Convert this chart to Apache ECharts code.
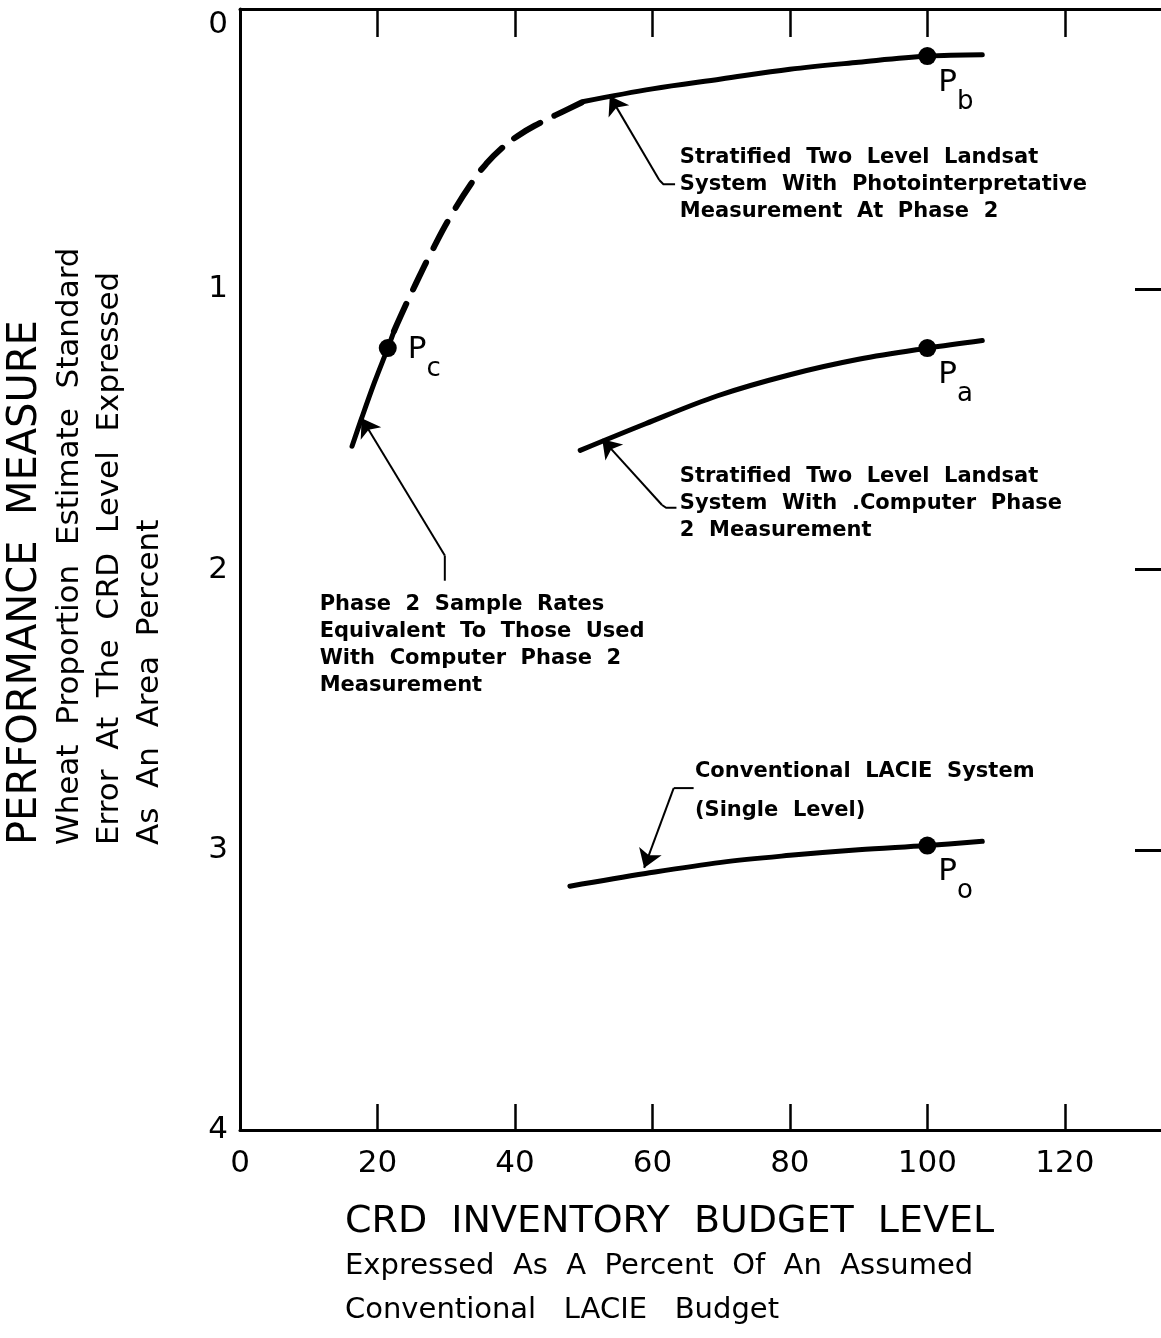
<!DOCTYPE html>
<html>
<head>
    <meta charset="utf-8">
    <title>CRD Inventory Budget Level</title>
    <script src="https://cdn.jsdelivr.net/npm/echarts@6/dist/echarts.min.js"></script>
    <style>
        body { margin: 0; background: #fff; }
        #chart1 { width: 1161px; height: 1338px; }
    </style>
</head>
<body>
<div id="chart1"></div>
<script type="text/javascript">
    // curves: [budget %, standard error %]
    var curveB = [[50, 0.33], [60, 0.285], [70, 0.25], [80, 0.215], [90, 0.19], [100, 0.168], [108, 0.163]];
    var curveBDash = [[22.4, 1.15], [23.3, 1.10], [25.2, 1.0], [28, 0.86], [31, 0.725], [34, 0.61], [35.8, 0.553], [37.8, 0.503],
        [40.4, 0.453], [43.6, 0.407], [47.5, 0.36], [50, 0.33]];
    var curveC = [[16.3, 1.56], [17.7, 1.46], [19.6, 1.33], [21.5, 1.21], [22.4, 1.15]];
    var curveA = [[49.5, 1.575], [59, 1.48], [69.5, 1.38], [80, 1.305], [90, 1.25], [100, 1.21], [108, 1.183]];
    var curveO = [[48, 3.13], [59, 3.085], [70, 3.045], [80, 3.02], [90, 3.0], [100, 2.985], [108, 2.97]];

    // design points P_b, P_a, P_c, P_o
    var pointXY = [[100, 0.168], [100, 1.21], [21.5, 1.21], [100, 2.985]];
    var pointSub = ['b', 'a', 'c', 'o'];

    // axis ticks
    var xTicks = [20, 40, 60, 80, 100, 120];
    var xLabels = [0, 20, 40, 60, 80, 100, 120];
    var yLabels = [0, 1, 2, 3, 4];
    var yTicksRight = [1, 2, 3];

    // callouts: arrow head segment, then the leader to the text
    var arrowHeads = [
        [[53.8, 0.31], [61, 0.61]],
        [[52.7, 1.535], [61.4, 1.77]],
        [[17.7, 1.46], [29.8, 1.95]],
        [[58.8, 3.065], [63.1, 2.78]]
    ];
    var leaders = [
        [[61, 0.61], [61.6, 0.625], [63.3, 0.625]],
        [[61.4, 1.77], [62, 1.78], [63.5, 1.78]],
        [[29.8, 1.95], [29.8, 2.04]],
        [[63.1, 2.78], [66, 2.78]]
    ];
    var noteAt = [[64.0, 0.4835], [64.0, 1.622], [11.6, 2.077]];
    var noteText = [
        'Stratified  Two  Level  Landsat\nSystem  With  Photointerpretative\nMeasurement  At  Phase  2',
        'Stratified  Two  Level  Landsat\nSystem  With  .Computer  Phase\n2  Measurement',
        'Phase  2  Sample  Rates\nEquivalent  To  Those  Used\nWith  Computer  Phase  2\nMeasurement'
    ];
    var noteAtO = [[66.2, 2.651]];
    var noteTextO = ['Conventional  LACIE  System\n(Single  Level)'];

    var font = 'DejaVu Sans';

    var myChart1 = echarts.init(document.getElementById('chart1'));

    function curve(name, data, width, type, smooth) {
        return {
            name: name, type: 'line', data: data, smooth: smooth || 0.35, symbol: 'none',
            xAxisIndex: 0, yAxisIndex: 0,
            lineStyle: {color: '#000', width: width, type: type || 'solid', cap: 'round'},
            z: 3
        };
    }

    function notes(at, text, lh) {
        return {
            type: 'scatter', xAxisIndex: 0, yAxisIndex: 0,
            symbolSize: 0.1, itemStyle: {color: '#fff', opacity: 1},
            data: at.map(function (p, i) { return {value: p, name: text[i]}; }),
            label: {
                show: true, position: [0, 0], align: 'left', verticalAlign: 'top', opacity: 1,
                formatter: function (p) { return p.name; },
                color: '#000', fontFamily: font, fontWeight: 'bold', fontSize: 21, lineHeight: lh
            },
            z: 4
        };
    }

    var option = {
        animation: false,
        backgroundColor: '#fff',
        grid: {left: 240, right: 0, top: 9, bottom: 208, containLabel: false, outerBoundsMode: 'none'},
        xAxis: [{
            type: 'value', position: 'bottom', min: 0, max: 134, interval: 20,
            axisLine: {show: true, onZero: false, lineStyle: {color: '#000', width: 3}},
            axisTick: {show: true, inside: true, length: 26, customValues: xTicks, lineStyle: {color: '#000', width: 2.5}},
            axisLabel: {show: true, customValues: xLabels, margin: 18, color: '#000', fontFamily: font, fontSize: 31},
            splitLine: {show: false}
        }, {
            type: 'value', position: 'top', min: 0, max: 134, interval: 20,
            axisLine: {show: true, onZero: false, lineStyle: {color: '#000', width: 3}},
            axisTick: {show: true, inside: true, length: 28, customValues: xTicks, lineStyle: {color: '#000', width: 2.5}},
            axisLabel: {show: false},
            splitLine: {show: false}
        }],
        yAxis: [{
            type: 'value', position: 'left', inverse: true, min: 0, max: 4, interval: 1,
            axisLine: {show: true, onZero: false, lineStyle: {color: '#000', width: 3}},
            axisTick: {show: false},
            axisLabel: {show: true, customValues: yLabels, margin: 12, color: '#000', fontFamily: font, fontSize: 31,
                verticalAlignMinLabel: 'top'},
            splitLine: {show: false}
        }, {
            type: 'value', position: 'right', inverse: true, min: 0, max: 4, interval: 1,
            axisLine: {show: false, onZero: false},
            axisTick: {show: true, inside: true, length: 26, customValues: yTicksRight, lineStyle: {color: '#000', width: 3}},
            axisLabel: {show: false},
            splitLine: {show: false}
        }],
        series: [
            curve('Pb', curveB, 5),
            curve('Pb dashed', curveBDash, 6, [30, 16], 0.5),
            curve('Pc', curveC, 5),
            curve('Pa', curveA, 5),
            curve('Po', curveO, 5),
            {
                type: 'scatter', xAxisIndex: 0, yAxisIndex: 0, symbolSize: 18,
                itemStyle: {color: '#000', opacity: 1},
                data: pointXY.map(function (p, i) {
                    var sub = pointSub[i];
                    return {value: p, name: sub, label: {position: sub === 'c' ? [29, -5] : [20, 20]}};
                }),
                label: {
                    show: true, align: 'left', verticalAlign: 'top', opacity: 1,
                    formatter: function (p) { return '{p|P}{s|' + p.name + '}'; },
                    rich: {
                        p: {fontFamily: font, fontSize: 31, color: '#000', verticalAlign: 'top', lineHeight: 34},
                        s: {fontFamily: font, fontSize: 26, color: '#000', verticalAlign: 'top', lineHeight: 30, padding: [22, 0, 0, 0]}
                    }
                },
                z: 5
            },
            {
                type: 'lines', coordinateSystem: 'cartesian2d', xAxisIndex: 0, yAxisIndex: 0,
                symbol: ['arrow', 'none'], symbolSize: 18,
                lineStyle: {color: '#000', width: 2, opacity: 1},
                data: arrowHeads.map(function (c) { return {coords: c}; }),
                z: 4
            },
            {
                type: 'lines', coordinateSystem: 'cartesian2d', xAxisIndex: 0, yAxisIndex: 0,
                polyline: true,
                lineStyle: {color: '#000', width: 2, opacity: 1},
                data: leaders.map(function (c) { return {coords: c}; }),
                z: 4
            },
            notes(noteAt, noteText, 27),
            notes(noteAtO, noteTextO, 39)
        ],
        graphic: [
            {type: 'text', x: 26, y: 845, rotation: Math.PI / 2,
                style: {text: 'PERFORMANCE  MEASURE', fontFamily: font, fontSize: 40, fill: '#000', align: 'left', verticalAlign: 'middle'}},
            {type: 'text', x: 70, y: 845, rotation: Math.PI / 2,
                style: {text: 'Wheat  Proportion  Estimate  Standard', fontFamily: font, fontSize: 31, fill: '#000', align: 'left', verticalAlign: 'middle'}},
            {type: 'text', x: 110, y: 845, rotation: Math.PI / 2,
                style: {text: 'Error  At  The  CRD  Level  Expressed', fontFamily: font, fontSize: 31, fill: '#000', align: 'left', verticalAlign: 'middle'}},
            {type: 'text', x: 150, y: 845, rotation: Math.PI / 2,
                style: {text: 'As  An  Area  Percent', fontFamily: font, fontSize: 31, fill: '#000', align: 'left', verticalAlign: 'middle'}},
            {type: 'text', x: 345, y: 1222,
                style: {text: 'CRD  INVENTORY  BUDGET  LEVEL', fontFamily: font, fontSize: 38, fill: '#000', align: 'left', verticalAlign: 'middle'}},
            {type: 'text', x: 345, y: 1266,
                style: {text: 'Expressed  As  A  Percent  Of  An  Assumed', fontFamily: font, fontSize: 29, fill: '#000', align: 'left', verticalAlign: 'middle'}},
            {type: 'text', x: 345, y: 1310,
                style: {text: 'Conventional   LACIE   Budget', fontFamily: font, fontSize: 29, fill: '#000', align: 'left', verticalAlign: 'middle'}}
        ]
    };

    myChart1.setOption(option);
</script>
</body>
</html>
